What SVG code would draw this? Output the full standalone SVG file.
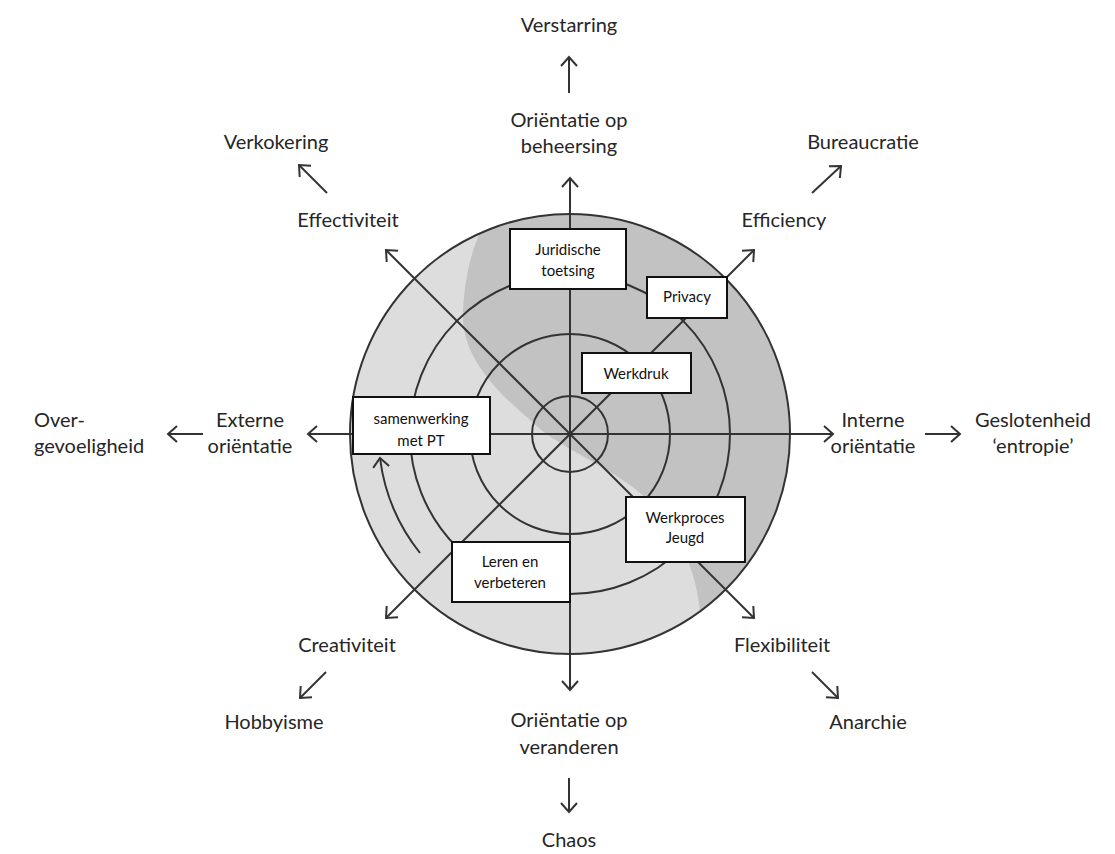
<svg xmlns="http://www.w3.org/2000/svg" width="1115" height="854" viewBox="0 0 1115 854">
<defs>
<style>
.lbl{font-family:Lato,"Open Sans","DejaVu Sans",sans-serif;font-size:20px;fill:#262626;text-anchor:middle}
.bt{font-family:Lato,"Liberation Sans",sans-serif;font-size:15px;fill:#111;text-anchor:middle}
.box{fill:#fff;stroke:#111;stroke-width:2}
.ring{fill:none;stroke:#333;stroke-width:2}
.ax{fill:none;stroke:#333;stroke-width:2}
</style>
<marker id="ah" viewBox="-12 -10 14 20" markerWidth="14" markerHeight="20" refX="0" refY="0" orient="auto-start-reverse" markerUnits="userSpaceOnUse">
<path d="M-9,-8 L0,0 L-9,8" fill="none" stroke="#333" stroke-width="2"/>
</marker>
</defs>
<rect width="1115" height="854" fill="#fff"/>
<g id="disk">
<circle cx="570" cy="434" r="220" fill="#dddddd"/>
<path d="M480,233 A220,220 0 0,1 700,611 C695,560 670,515 630,485 C595,460 555,445 530,420 C495,390 460,355 463,310 C465,275 472,250 480,233 Z" fill="#c2c2c2"/>
<circle class="ring" cx="570" cy="434" r="220"/>
<circle class="ring" cx="570" cy="434" r="160"/>
<circle class="ring" cx="570" cy="434" r="100"/>
<circle class="ring" cx="570" cy="434" r="38"/>
</g>
<g id="connectors">
<line class="ax" x1="570" y1="690" x2="570" y2="178" marker-start="url(#ah)" marker-end="url(#ah)"/>
<line class="ax" x1="308" y1="434" x2="833" y2="434" marker-start="url(#ah)" marker-end="url(#ah)"/>
<line class="ax" x1="386" y1="250" x2="754" y2="618" marker-start="url(#ah)" marker-end="url(#ah)"/>
<line class="ax" x1="386" y1="618" x2="754" y2="250" marker-start="url(#ah)" marker-end="url(#ah)"/>
<line class="ax" x1="569" y1="93" x2="569" y2="57" marker-end="url(#ah)"/>
<line class="ax" x1="327" y1="193" x2="299" y2="165" marker-end="url(#ah)"/>
<line class="ax" x1="812" y1="193" x2="841" y2="166" marker-end="url(#ah)"/>
<line class="ax" x1="203" y1="434" x2="168" y2="434" marker-end="url(#ah)"/>
<line class="ax" x1="925" y1="434" x2="960" y2="434" marker-end="url(#ah)"/>
<line class="ax" x1="326" y1="672" x2="300" y2="698" marker-end="url(#ah)"/>
<line class="ax" x1="812" y1="672" x2="838" y2="698" marker-end="url(#ah)"/>
<line class="ax" x1="569" y1="778" x2="569" y2="812" marker-end="url(#ah)"/>
<path class="ax" d="M420,553 A191,191 0 0,1 380,458" marker-end="url(#ah)"/>
</g>
<g id="labels">
<text class="lbl" x="569" y="32">Verstarring</text>
<text class="lbl" x="569" y="127">Oriëntatie op</text>
<text class="lbl" x="569" y="153">beheersing</text>
<text class="lbl" x="276" y="149">Verkokering</text>
<text class="lbl" x="863" y="149">Bureaucratie</text>
<text class="lbl" x="348" y="227">Effectiviteit</text>
<text class="lbl" x="784" y="227">Efficiency</text>
<text class="lbl" x="34" y="427" style="text-anchor:start">Over-</text>
<text class="lbl" x="34" y="453" style="text-anchor:start">gevoeligheid</text>
<text class="lbl" x="250" y="427">Externe</text>
<text class="lbl" x="250" y="453">oriëntatie</text>
<text class="lbl" x="873" y="427">Interne</text>
<text class="lbl" x="873" y="453">oriëntatie</text>
<text class="lbl" x="1033" y="427">Geslotenheid</text>
<text class="lbl" x="1033" y="453">‘entropie’</text>
<text class="lbl" x="347" y="652">Creativiteit</text>
<text class="lbl" x="782" y="652">Flexibiliteit</text>
<text class="lbl" x="274" y="729">Hobbyisme</text>
<text class="lbl" x="868" y="729">Anarchie</text>
<text class="lbl" x="569" y="727">Oriëntatie op</text>
<text class="lbl" x="569" y="754">veranderen</text>
<text class="lbl" x="569" y="847">Chaos</text>
</g>
<g id="node-juridische">
<rect class="box" x="510" y="229" width="116" height="60"/>
<text class="bt" x="568" y="255">Juridische</text>
<text class="bt" x="568" y="276">toetsing</text>
</g>
<g id="node-privacy">
<rect class="box" x="647" y="277" width="80" height="41"/>
<text class="bt" x="687" y="302">Privacy</text>
</g>
<g id="node-werkdruk">
<rect class="box" x="582" y="353" width="109" height="40"/>
<text class="bt" x="636" y="379">Werkdruk</text>
</g>
<g id="node-samenwerking">
<rect class="box" x="353" y="397" width="137" height="57"/>
<text class="bt" x="421" y="424">samenwerking</text>
<text class="bt" x="421" y="446">met PT</text>
</g>
<g id="node-werkproces">
<rect class="box" x="626" y="497" width="119" height="65"/>
<text class="bt" x="685" y="523">Werkproces</text>
<text class="bt" x="685" y="543">Jeugd</text>
</g>
<g id="node-leren">
<rect class="box" x="452" y="542" width="118" height="60"/>
<text class="bt" x="510" y="567">Leren en</text>
<text class="bt" x="510" y="588">verbeteren</text>
</g>
</svg>
